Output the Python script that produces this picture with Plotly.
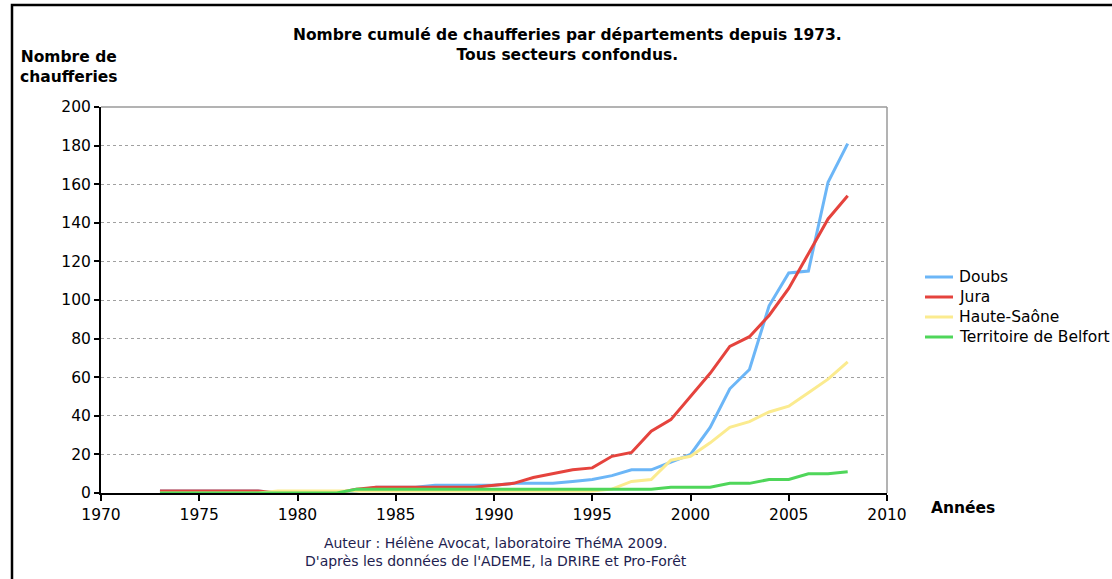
import plotly.graph_objects as go

# Années 1973 -> 2008
years = list(range(1973, 2009))

# Nombre cumulé de chaufferies par département
doubs = [1, 1, 1, 1, 1, 1, 0, 0, 0, 0, 1, 3, 3, 3, 4, 4, 4, 4, 5, 5, 5, 6,
         7, 9, 12, 12, 16, 20, 34, 54, 64, 97, 114, 115, 161, 181]
jura = [1, 1, 1, 1, 1, 1, 0, 0, 0, 0, 2, 3, 3, 3, 3, 3, 3, 4, 5, 8, 10, 12,
        13, 19, 21, 32, 38, 50, 62, 76, 81, 92, 106, 124, 142, 154]
haute_saone = [0, 0, 0, 0, 0, 0, 1, 1, 1, 1, 1, 1, 1, 1, 1, 1, 1, 1, 1, 1, 1, 1,
               1, 2, 6, 7, 17, 19, 26, 34, 37, 42, 45, 52, 59, 68]
belfort = [0, 0, 0, 0, 0, 0, 0, 0, 0, 0, 2, 2, 2, 2, 2, 2, 2, 2, 2, 2, 2, 2,
           2, 2, 2, 2, 3, 3, 3, 5, 5, 7, 7, 10, 10, 11]

series = [
    ("Doubs", doubs, "#6cb6f7"),
    ("Jura", jura, "#e5433d"),
    ("Haute-Saône", haute_saone, "#fbeb8f"),
    ("Territoire de Belfort", belfort, "#4fd65a"),
]

FONT = "DejaVu Sans"
FS = 15.5

fig = go.Figure()
for name, vals, color in series:
    fig.add_trace(go.Scatter(
        x=years, y=vals, name=name, mode="lines",
        line=dict(color=color, width=3), showlegend=False,
    ))

# plot area geometry (pixels)
W, H = 1112, 579
L, R, T, B = 101, 887, 107, 493
pw, ph = R - L, B - T


def px(xp):
    return (xp - L) / pw


def py(yp):
    return (B - yp) / ph


fig.update_layout(
    width=W, height=H,
    margin=dict(l=L, r=W - R, t=T, b=H - B, pad=0, autoexpand=False),
    paper_bgcolor="white", plot_bgcolor="white",
    font=dict(family=FONT, size=FS, color="black"),
    showlegend=False,
    xaxis=dict(
        range=[1970, 2010], dtick=5, tick0=1970,
        showgrid=False, zeroline=False,
        showline=True, linecolor="black", linewidth=2,
        ticks="outside", ticklen=6, tickcolor="black", tickwidth=1.5,
        tickfont=dict(family=FONT, size=FS, color="black"),
    ),
    yaxis=dict(
        range=[0, 200], dtick=20, tick0=0,
        showgrid=True, gridcolor="#a0a0a0", griddash="dot", gridwidth=1,
        zeroline=False,
        showline=True, linecolor="black", linewidth=2,
        ticks="outside", ticklen=5, tickcolor="black", tickwidth=1.5,
        tickfont=dict(family=FONT, size=FS, color="black"),
    ),
)

# gray border on top and right of the plot area
fig.add_shape(type="line", xref="x domain", yref="y domain",
              x0=0, x1=1, y0=1, y1=1, line=dict(color="#9a9a9a", width=1.5))
fig.add_shape(type="line", xref="x domain", yref="y domain",
              x0=1, x1=1, y0=0, y1=1, line=dict(color="#9a9a9a", width=1.5))

# outer frame of the figure
fig.add_shape(type="rect", xref="paper", yref="paper",
              x0=px(12), x1=px(1125), y0=py(595), y1=py(5),
              line=dict(color="black", width=2.5), layer="above")

# legend: a short line sample and the series name per row
for i, (name, _, color) in enumerate(series):
    row_y = 277 + 20 * i
    fig.add_shape(type="line", xref="paper", yref="paper",
                  x0=px(925), x1=px(953), y0=py(row_y), y1=py(row_y),
                  line=dict(color=color, width=3))
    fig.add_annotation(
        text=name, xref="paper", yref="paper", x=px(957), y=py(row_y),
        xanchor="left", yanchor="middle", showarrow=False,
        font=dict(family=FONT, size=FS, color="black"),
    )

# titles and labels
fig.add_annotation(
    text="<b>Nombre cumulé de chaufferies par départements depuis 1973.</b><br>"
         "<b>Tous secteurs confondus.</b>",
    xref="paper", yref="paper", x=px(567), y=py(45),
    xanchor="center", yanchor="middle", showarrow=False,
    font=dict(family=FONT, size=FS, color="black"), align="center",
)
fig.add_annotation(
    text="<b>Nombre de</b><br><b>chaufferies</b>",
    xref="paper", yref="paper", x=px(68), y=py(67),
    xanchor="center", yanchor="middle", showarrow=False,
    font=dict(family=FONT, size=FS, color="black"), align="center",
)
fig.add_annotation(
    text="<b>Années</b>",
    xref="paper", yref="paper", x=px(963), y=py(508),
    xanchor="center", yanchor="middle", showarrow=False,
    font=dict(family=FONT, size=FS, color="black"),
)
fig.add_annotation(
    text="Auteur : Hélène Avocat, laboratoire ThéMA 2009.<br>"
         "D'après les données de l'ADEME, la DRIRE et Pro-Forêt",
    xref="paper", yref="paper", x=px(496), y=py(552),
    xanchor="center", yanchor="middle", showarrow=False,
    font=dict(family=FONT, size=14, color="#1e1e50"), align="center",
)

fig.write_html("out.html")
